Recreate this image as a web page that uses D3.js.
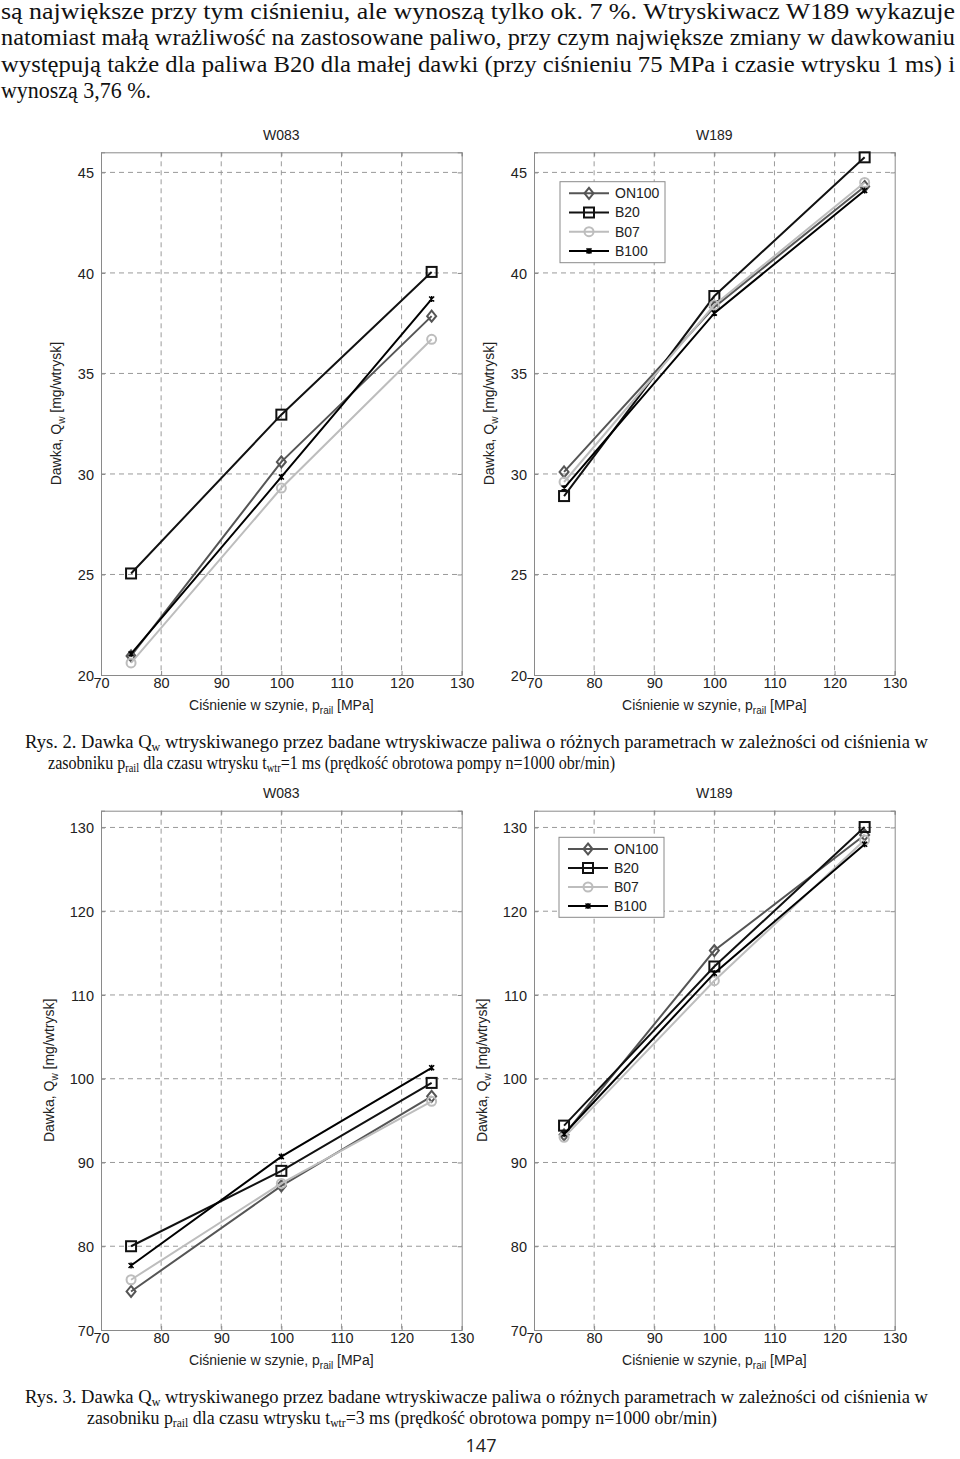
<!DOCTYPE html>
<html><head><meta charset="utf-8">
<script src="https://cdn.jsdelivr.net/npm/d3@7"></script>
<style>body{margin:0;background:#fff}</style>
</head><body>
<svg id="c" width="960" height="1459" xmlns="http://www.w3.org/2000/svg"></svg>
<script>
// ---------- data ----------
const pressure = [75, 100, 125];
const seriesNames = ["ON100", "B20", "B07", "B100"];
const xTicks = [70, 80, 90, 100, 110, 120, 130];
const yTicks1ms = [20, 25, 30, 35, 40, 45];
const yTicks3ms = [70, 80, 90, 100, 110, 120, 130];
const panelTitles = ["W083", "W189"];

// Rys. 2 (t_wtr = 1 ms)
const w083_1ms_ON100 = [20.95, 30.6, 37.85];
const w083_1ms_B20   = [25.05, 32.95, 40.05];
const w083_1ms_B07   = [20.6, 29.3, 36.7];
const w083_1ms_B100  = [21.05, 29.85, 38.7];
const w189_1ms_ON100 = [30.1, 38.3, 44.3];
const w189_1ms_B20   = [28.9, 38.85, 45.75];
const w189_1ms_B07   = [29.6, 38.4, 44.5];
const w189_1ms_B100  = [29.3, 38.0, 44.1];

// Rys. 3 (t_wtr = 3 ms)
const w083_3ms_ON100 = [74.6, 87.2, 97.9];
const w083_3ms_B20   = [80.0, 89.0, 99.5];
const w083_3ms_B07   = [76.0, 87.5, 97.3];
const w083_3ms_B100  = [77.7, 90.7, 101.3];
const w189_3ms_ON100 = [93.3, 115.3, 129.1];
const w189_3ms_B20   = [94.4, 113.4, 130.05];
const w189_3ms_B07   = [93.0, 111.7, 128.5];
const w189_3ms_B100  = [93.4, 112.6, 128.0];

// ---------- styles ----------
const seriesColor = {ON100: "#555555", B20: "#111111", B07: "#bdbdbd", B100: "#000000"};
const seriesMarker = {ON100: "diamond", B20: "square", B07: "circle", B100: "x"};
const sans = "'Liberation Sans', Arial, sans-serif";
const serif = "'Liberation Serif', 'Times New Roman', serif";

const svg = d3.select("#c");

function drawMarker(g, type, color) {
  if (type === "diamond") {
    g.append("path").attr("d", "M0,-5.5L4.5,0L0,5.5L-4.5,0Z")
      .attr("fill", "none").attr("stroke", color).attr("stroke-width", 2);
  } else if (type === "square") {
    g.append("rect").attr("x", -5).attr("y", -5).attr("width", 10).attr("height", 10)
      .attr("fill", "none").attr("stroke", color).attr("stroke-width", 2);
  } else if (type === "circle") {
    g.append("circle").attr("r", 4.5)
      .attr("fill", "none").attr("stroke", color).attr("stroke-width", 2);
  } else {
    g.append("path").attr("d", "M-2.5,-2.5L2.5,2.5M-2.5,2.5L2.5,-2.5M0,-3V3")
      .attr("fill", "none").attr("stroke", color).attr("stroke-width", 1.5);
  }
}

function drawPanel(opt) {
  const {left, top, width, height, yDomain, yTicks, title, series, legend, ylabelOffset} = opt;
  const x = d3.scaleLinear().domain([70, 130]).range([0, width]);
  const y = d3.scaleLinear().domain(yDomain).range([height, 0]);
  const g = svg.append("g").attr("transform", `translate(${left},${top})`);

  // grid
  g.append("g").selectAll("line.gx").data(xTicks.slice(1, -1)).join("line")
    .attr("x1", d => x(d)).attr("x2", d => x(d)).attr("y1", 0).attr("y2", height)
    .attr("stroke", "#9a9a9a").attr("stroke-width", 1).attr("stroke-dasharray", "5,4");
  g.append("g").selectAll("line.gy").data(yTicks.filter(d => d > yDomain[0])).join("line")
    .attr("x1", 0).attr("x2", width).attr("y1", d => y(d)).attr("y2", d => y(d))
    .attr("stroke", "#9a9a9a").attr("stroke-width", 1).attr("stroke-dasharray", "5,4");

  // axes via d3 axis (inner ticks)
  const axB = g.append("g").attr("transform", `translate(0,${height})`)
    .call(d3.axisBottom(x).tickValues(xTicks).tickSize(-4).tickPadding(5).tickFormat(d3.format("d")));
  const axT = g.append("g")
    .call(d3.axisTop(x).tickValues(xTicks).tickSize(-4).tickFormat(""));
  const axL = g.append("g")
    .call(d3.axisLeft(y).tickValues(yTicks).tickSize(-4).tickPadding(7).tickFormat(d3.format("d")));
  const axR = g.append("g").attr("transform", `translate(${width},0)`)
    .call(d3.axisRight(y).tickValues(yTicks).tickSize(-4).tickFormat(""));
  [axB, axT, axL, axR].forEach(a => {
    a.select(".domain").attr("stroke", "#8a8a8a");
    a.selectAll(".tick line").attr("stroke", "#8a8a8a");
    a.selectAll("text").attr("font-family", sans).attr("font-size", 14.5).attr("fill", "#222");
  });
  axB.selectAll(".tick text").attr("dy", "0.55em");
  axL.selectAll(".tick text").attr("dy", "0.35em");

  // title
  g.append("text").attr("x", width / 2).attr("y", -16).attr("text-anchor", "middle")
    .attr("dominant-baseline", "middle").attr("font-family", sans).attr("font-size", 14)
    .attr("fill", "#222").text(title);

  // x label
  const xl = g.append("text").attr("x", width / 2).attr("y", height + 35).attr("text-anchor", "middle")
    .attr("font-family", sans).attr("font-size", 14).attr("fill", "#222");
  xl.append("tspan").text("Ciśnienie w szynie, p");
  xl.append("tspan").attr("font-size", 10).attr("dy", 4).text("rail");
  xl.append("tspan").attr("dy", -4).text(" [MPa]");

  // y label
  const yl = g.append("text")
    .attr("transform", `translate(${-ylabelOffset},${height / 2}) rotate(-90)`)
    .attr("text-anchor", "middle").attr("font-family", sans).attr("font-size", 14).attr("fill", "#222");
  yl.append("tspan").text("Dawka, Q");
  yl.append("tspan").attr("font-size", 10).attr("dy", 4).text("w");
  yl.append("tspan").attr("dy", -4).text(" [mg/wtrysk]");

  // series
  const line = d3.line().x((d, i) => x(pressure[i])).y(d => y(d));
  seriesNames.forEach(name => {
    const vals = series[name];
    const c = seriesColor[name];
    g.append("path").datum(vals).attr("d", line).attr("fill", "none")
      .attr("stroke", c).attr("stroke-width", 2);
    vals.forEach((v, i) => {
      const m = g.append("g").attr("transform", `translate(${x(pressure[i])},${y(v)})`);
      drawMarker(m, seriesMarker[name], c);
    });
  });

  // legend
  if (legend) {
    const lg = g.append("g").attr("transform", `translate(${legend.x},${legend.y})`);
    lg.append("rect").attr("width", legend.w).attr("height", legend.h)
      .attr("fill", "#fff").attr("stroke", "#8a8a8a").attr("stroke-width", 1);
    seriesNames.forEach((name, i) => {
      const yy = legend.first + i * legend.step;
      const c = seriesColor[name];
      lg.append("line").attr("x1", 9).attr("x2", 49).attr("y1", yy).attr("y2", yy)
        .attr("stroke", c).attr("stroke-width", 2);
      const m = lg.append("g").attr("transform", `translate(29,${yy})`);
      drawMarker(m, seriesMarker[name], c);
      lg.append("text").attr("x", 55).attr("y", yy).attr("dy", "0.35em")
        .attr("font-family", sans).attr("font-size", 14).attr("fill", "#222").text(name);
    });
  }
}

// ---------- body text ----------
const para = [
  "są największe przy tym ciśnieniu, ale wynoszą tylko ok. 7 %. Wtryskiwacz W189 wykazuje",
  "natomiast małą wrażliwość na zastosowane paliwo, przy czym największe zmiany w dawkowaniu",
  "występują także dla paliwa B20 dla małej dawki (przy ciśnieniu 75 MPa i czasie wtrysku 1 ms) i",
  "wynoszą 3,76 %."
];
const paraY = [19, 45, 72, 98];
para.forEach((t, i) => {
  const tx = svg.append("text").attr("x", 1).attr("y", paraY[i])
    .attr("font-family", serif).attr("font-size", 23).attr("fill", "#111").text(t);
  if (i < 3) tx.attr("textLength", 954).attr("lengthAdjust", "spacingAndGlyphs");
  else tx.attr("textLength", 150).attr("lengthAdjust", "spacingAndGlyphs");
});

function caption(yy, num, tms, fs, l1len, l2x, l2len) {
  const t1 = svg.append("text").attr("x", 25).attr("y", yy).attr("font-family", serif)
    .attr("font-size", fs).attr("fill", "#111")
    .attr("textLength", l1len).attr("lengthAdjust", "spacingAndGlyphs");
  t1.append("tspan").text(`Rys. ${num}. Dawka Q`);
  t1.append("tspan").attr("font-size", fs * 0.65).attr("dy", 3).text("w");
  t1.append("tspan").attr("dy", -3).text(" wtryskiwanego przez badane wtryskiwacze paliwa o różnych parametrach w zależności od ciśnienia w");
  const t2 = svg.append("text").attr("x", l2x).attr("y", yy + 21).attr("font-family", serif)
    .attr("font-size", fs).attr("fill", "#111")
    .attr("textLength", l2len).attr("lengthAdjust", "spacingAndGlyphs");
  t2.append("tspan").text("zasobniku p");
  t2.append("tspan").attr("font-size", fs * 0.65).attr("dy", 3).text("rail");
  t2.append("tspan").attr("dy", -3).text(" dla czasu wtrysku t");
  t2.append("tspan").attr("font-size", fs * 0.65).attr("dy", 3).text("wtr");
  t2.append("tspan").attr("dy", -3).text(`=${tms} ms (prędkość obrotowa pompy n=1000 obr/min)`);
}

// ---------- panels ----------
const topPanels = {top: 152.3, height: 522.7, yDomain: [20, 46], yTicks: yTicks1ms, ylabelOffset: 40};
const botPanels = {top: 810.7, height: 519.3, yDomain: [70, 132], yTicks: yTicks3ms, ylabelOffset: 47};
const PW = 360.7;

drawPanel(Object.assign({}, topPanels, {left: 101, width: PW, title: panelTitles[0],
  series: {ON100: w083_1ms_ON100, B20: w083_1ms_B20, B07: w083_1ms_B07, B100: w083_1ms_B100}}));
drawPanel(Object.assign({}, topPanels, {left: 534, width: PW, title: panelTitles[1],
  series: {ON100: w189_1ms_ON100, B20: w189_1ms_B20, B07: w189_1ms_B07, B100: w189_1ms_B100},
  legend: {x: 26, y: 29.4, w: 105, h: 81, first: 11.6, step: 19.2}}));
drawPanel(Object.assign({}, botPanels, {left: 101, width: PW, title: panelTitles[0],
  series: {ON100: w083_3ms_ON100, B20: w083_3ms_B20, B07: w083_3ms_B07, B100: w083_3ms_B100}}));
drawPanel(Object.assign({}, botPanels, {left: 534, width: PW, title: panelTitles[1],
  series: {ON100: w189_3ms_ON100, B20: w189_3ms_B20, B07: w189_3ms_B07, B100: w189_3ms_B100},
  legend: {x: 25, y: 26.6, w: 105, h: 80, first: 11.7, step: 19}}));

caption(748, 2, 1, 18, 903, 48, 567);
caption(1403, 3, 3, 19, 903, 87, 630);

svg.append("text").attr("x", 481).attr("y", 1452).attr("text-anchor", "middle")
  .attr("font-family", "'Open Sans', 'Noto Sans', sans-serif").attr("font-size", 18)
  .attr("fill", "#222").text("147");
</script>
</body></html>
